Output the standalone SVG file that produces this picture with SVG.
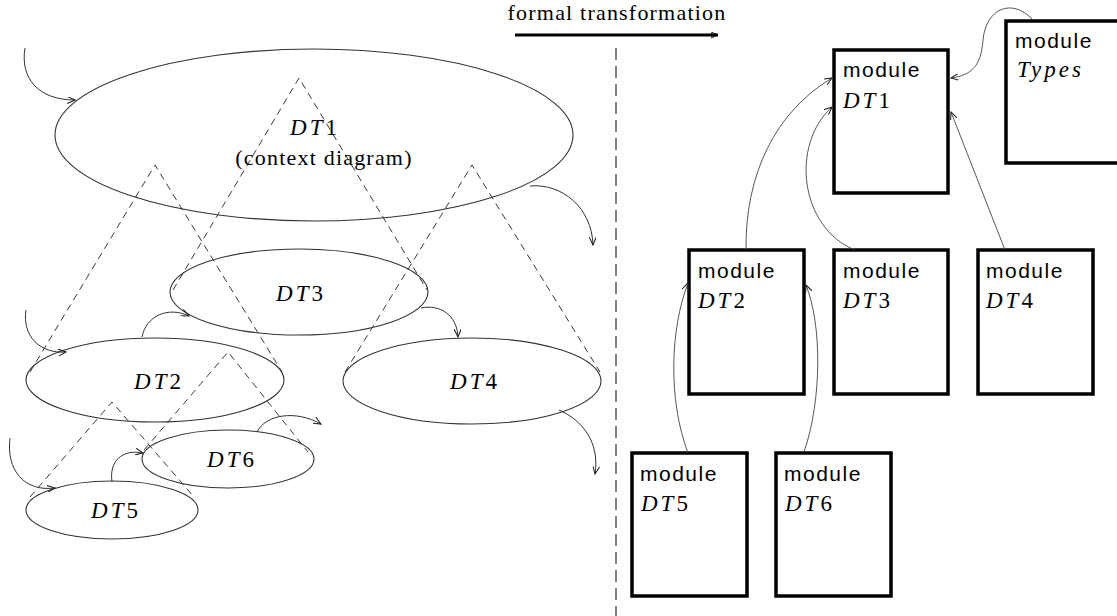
<svg xmlns="http://www.w3.org/2000/svg" width="1117" height="616" viewBox="0 0 1117 616">
  <style>
    .serif { font-family: "Liberation Serif", "Times New Roman", serif; font-size: 22px; letter-spacing: 1.2px; fill: #000; }
    .dt { font-family: "Liberation Serif", "Times New Roman", serif; font-size: 23px; letter-spacing: 3px; fill: #000; }
    .dt tspan.it { font-style: italic; }
    .mod { font-family: "Liberation Sans", Arial, sans-serif; font-size: 21px; letter-spacing: 1.5px; fill: #000; }
    .ell { fill: none; stroke: #333; stroke-width: 1.1; }
    .cone { fill: none; stroke: #222; stroke-width: 0.9; stroke-dasharray: 7 5; }
    .flow { fill: none; stroke: #333; stroke-width: 1; marker-end: url(#tip); }
    .box { fill: #fff; stroke: #000; stroke-width: 3.5; }
    .dep { fill: none; stroke: #444; stroke-width: 0.9; marker-end: url(#tip); }
  </style>
  <defs>
    <marker id="tip" viewBox="0 0 10 8" refX="9" refY="4" markerWidth="9" markerHeight="7" markerUnits="userSpaceOnUse" orient="auto">
      <path d="M0,0 L9,4 L0,8" fill="none" stroke="#222" stroke-width="1.2"/>
    </marker>
    <marker id="tipBold" viewBox="0 0 10 8" refX="9" refY="4" markerWidth="8" markerHeight="7" markerUnits="userSpaceOnUse" orient="auto">
      <path d="M0,0 L9,4 L0,8 M-4,0 L5,4 L-4,8" fill="none" stroke="#000" stroke-width="1"/>
    </marker>
  </defs>

  <rect width="1117" height="616" fill="#fff"/>

  <!-- heading arrow and divider -->
  <g id="transformation">
    <text class="serif" x="617" y="20" text-anchor="middle">formal transformation</text>
    <line x1="515" y1="35" x2="718" y2="35" stroke="#000" stroke-width="3" marker-end="url(#tipBold)"/>
  </g>
  <line id="divider" x1="616" y1="48" x2="616" y2="616" stroke="#000" stroke-width="1" stroke-dasharray="12 6"/>

  <!-- refinement cones (dashed) -->
  <g id="cones">
    <polyline class="cone" points="173,290 299,78 427,290"/>
    <polyline class="cone" points="30,372 155,165 282,372"/>
    <polyline class="cone" points="345,372 472,165 600,372"/>
    <polyline class="cone" points="144,450 228,352 308,452"/>
    <polyline class="cone" points="30,497 112,402 194,497"/>
  </g>

  <!-- data-flow diagrams -->
  <g id="dfd-DT1">
    <ellipse class="ell" cx="314" cy="135" rx="259" ry="86"/>
    <text class="dt" x="315" y="135" text-anchor="middle"><tspan class="it">DT</tspan>1</text>
    <text class="serif" x="324" y="165" text-anchor="middle">(context diagram)</text>
  </g>
  <g id="dfd-DT3">
    <ellipse class="ell" cx="299" cy="292" rx="129" ry="43"/>
    <text class="dt" x="301" y="301" text-anchor="middle"><tspan class="it">DT</tspan>3</text>
  </g>
  <g id="dfd-DT2">
    <ellipse class="ell" cx="155" cy="380" rx="129" ry="42"/>
    <text class="dt" x="159" y="389" text-anchor="middle"><tspan class="it">DT</tspan>2</text>
  </g>
  <g id="dfd-DT4">
    <ellipse class="ell" cx="472" cy="381" rx="129" ry="43"/>
    <text class="dt" x="475" y="389" text-anchor="middle"><tspan class="it">DT</tspan>4</text>
  </g>
  <g id="dfd-DT6">
    <ellipse class="ell" cx="228" cy="459" rx="86" ry="29"/>
    <text class="dt" x="232" y="467" text-anchor="middle"><tspan class="it">DT</tspan>6</text>
  </g>
  <g id="dfd-DT5">
    <ellipse class="ell" cx="112" cy="510" rx="86" ry="29"/>
    <text class="dt" x="116" y="518" text-anchor="middle"><tspan class="it">DT</tspan>5</text>
  </g>

  <!-- flows between diagrams -->
  <g id="flows">
    <path class="flow" d="M25,48 C20,78 38,100 75,100"/>
    <path class="flow" d="M530,186 C562,183 592,208 593,245"/>
    <path class="flow" d="M142,337 C146,316 168,306 189,316"/>
    <path class="flow" d="M26,310 C22,336 40,354 66,352"/>
    <path class="flow" d="M421,308 C440,304 457,315 458,337"/>
    <path class="flow" d="M559,410 C582,420 600,442 595,474"/>
    <path class="flow" d="M257,432 C266,414 296,410 321,424"/>
    <path class="flow" d="M112,482 C109,461 122,449 143,453"/>
    <path class="flow" d="M10,438 C6,470 24,492 55,488"/>
  </g>

  <!-- modules -->
  <g id="module-DT1">
    <rect class="box" x="834" y="50" width="114" height="143"/>
    <text class="mod" x="843" y="77">module</text>
    <text class="dt" x="843" y="108" font-size="22"><tspan class="it">DT</tspan>1</text>
  </g>
  <g id="module-Types">
    <rect class="box" x="1006" y="21" width="114" height="142"/>
    <text class="mod" x="1015" y="48">module</text>
    <text class="dt" x="1017" y="77" font-size="22" font-style="italic" letter-spacing="1">Types</text>
  </g>
  <g id="module-DT2">
    <rect class="box" x="689" y="250" width="115" height="144"/>
    <text class="mod" x="698" y="278">module</text>
    <text class="dt" x="698" y="308" font-size="22"><tspan class="it">DT</tspan>2</text>
  </g>
  <g id="module-DT3">
    <rect class="box" x="834" y="250" width="114" height="144"/>
    <text class="mod" x="843" y="278">module</text>
    <text class="dt" x="843" y="308" font-size="22"><tspan class="it">DT</tspan>3</text>
  </g>
  <g id="module-DT4">
    <rect class="box" x="978" y="250" width="115" height="144"/>
    <text class="mod" x="986" y="278">module</text>
    <text class="dt" x="986" y="308" font-size="22"><tspan class="it">DT</tspan>4</text>
  </g>
  <g id="module-DT5">
    <rect class="box" x="632" y="453" width="115" height="143"/>
    <text class="mod" x="640" y="481">module</text>
    <text class="dt" x="641" y="511" font-size="22"><tspan class="it">DT</tspan>5</text>
  </g>
  <g id="module-DT6">
    <rect class="box" x="776" y="453" width="115" height="143"/>
    <text class="mod" x="784" y="481">module</text>
    <text class="dt" x="785" y="511" font-size="22"><tspan class="it">DT</tspan>6</text>
  </g>

  <!-- module imports -->
  <g id="imports">
    <path class="dep" d="M746,250 C745,175 775,112 832,78"/>
    <path class="dep" d="M855,250 C800,228 790,145 832,107"/>
    <path class="dep" d="M1005,250 L951,112"/>
    <path class="dep" d="M1032,19 C1012,-2 986,8 983,40 C981,66 972,75 951,78"/>
    <path class="dep" d="M688,453 C668,400 670,330 688,283"/>
    <path class="dep" d="M804,452 C822,400 822,325 806,285"/>
  </g>
</svg>
